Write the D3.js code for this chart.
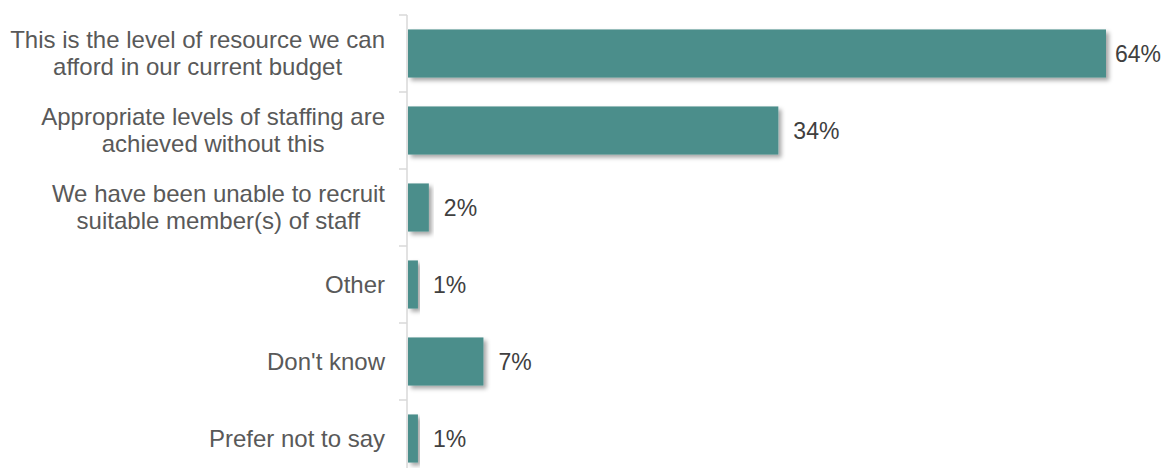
<!DOCTYPE html>
<html>
<head>
<meta charset="utf-8">
<script src="https://cdn.jsdelivr.net/npm/d3@7"></script>
<style>
  body { margin: 0; background: #fff; }
  svg { font-family: "Liberation Sans", Arial, sans-serif; }
</style>
</head>
<body>
<div id="chart"></div>
<script>
// categories, top to bottom (each entry is a list of label lines)
var categories = [
  ["This is the level of resource we can", "afford in our current budget"],
  ["Appropriate levels of staffing are", "achieved without this"],
  ["We have been unable to recruit", "suitable member(s) of staff"],
  ["Other"],
  ["Don't know"],
  ["Prefer not to say"]
];
var values = [64, 34, 2, 1, 7, 1];

var width = 1164,
    height = 468,
    axis_x = 407,
    top_y = 15,
    band = 77;

var svg = d3.select("#chart")
  .append("svg")
  .attr("width", width)
  .attr("height", height);

// soft shadow under the bars
var filter = svg.append("defs").append("filter")
  .attr("id", "shadow")
  .attr("x", "-10%").attr("y", "-20%")
  .attr("width", "130%").attr("height", "160%");
filter.append("feDropShadow")
  .attr("dx", 3).attr("dy", 3)
  .attr("stdDeviation", 2)
  .attr("flood-color", "#000")
  .attr("flood-opacity", 0.35);

var keys = categories.map(function(d, i) { return i; });

var y = d3.scaleBand()
  .domain(keys)
  .range([top_y, top_y + band * keys.length])
  .paddingInner(0.375)
  .paddingOuter(0.1875);

var x = d3.scaleLinear()
  .domain([0, 64])
  .range([axis_x, 1106]);

// axis line and tick marks between categories
var tick_pos = keys.map(function(i) { return top_y + i * band; });
tick_pos.push(top_y + keys.length * band);

svg.append("line")
  .attr("x1", axis_x).attr("x2", axis_x)
  .attr("y1", top_y).attr("y2", top_y + band * keys.length)
  .attr("stroke", "#d9d9d9")
  .attr("stroke-width", 1.5);

svg.selectAll(".tick_mark")
  .data(tick_pos)
  .enter()
  .append("line")
  .attr("class", "tick_mark")
  .attr("x1", axis_x - 8).attr("x2", axis_x)
  .attr("y1", function(d) { return d; })
  .attr("y2", function(d) { return d; })
  .attr("stroke", "#d9d9d9")
  .attr("stroke-width", 1.5);

// bars
svg.selectAll(".bar")
  .data(values)
  .enter()
  .append("rect")
  .attr("class", "bar")
  .attr("x", x(0) + 1)
  .attr("y", function(d, i) { return y(i); })
  .attr("width", function(d) { return x(d) - x(0) - 1; })
  .attr("height", y.bandwidth())
  .attr("fill", "#4b8e8b")
  .attr("filter", "url(#shadow)");

// value labels (kept inside the right edge)
svg.selectAll(".value_label")
  .data(values)
  .enter()
  .append("text")
  .attr("class", "value_label")
  .attr("y", function(d, i) { return y(i) + y.bandwidth() / 2; })
  .attr("dy", "0.35em")
  .style("font-size", "23px")
  .style("fill", "#404040")
  .text(function(d) { return d + "%"; })
  .attr("x", function(d) {
    var w = this.getComputedTextLength();
    return Math.min(x(d) + 15, width - 3 - w);
  });

// category labels: block right aligned, lines centred within the block
var label_right = 385,
    line_h = 27;

categories.forEach(function(lines, i) {
  var g = svg.append("g");
  var cy = y(i) + y.bandwidth() / 2;
  var texts = lines.map(function(t, j) {
    return g.append("text")
      .attr("y", cy + (j - (lines.length - 1) / 2) * line_h)
      .attr("dy", "0.35em")
      .attr("text-anchor", "middle")
      .style("font-size", "24px")
      .style("fill", "#595959")
      .text(t);
  });
  var max_w = d3.max(texts, function(t) { return t.node().getComputedTextLength(); });
  texts.forEach(function(t) { t.attr("x", label_right - max_w / 2); });
});
</script>
</body>
</html>
